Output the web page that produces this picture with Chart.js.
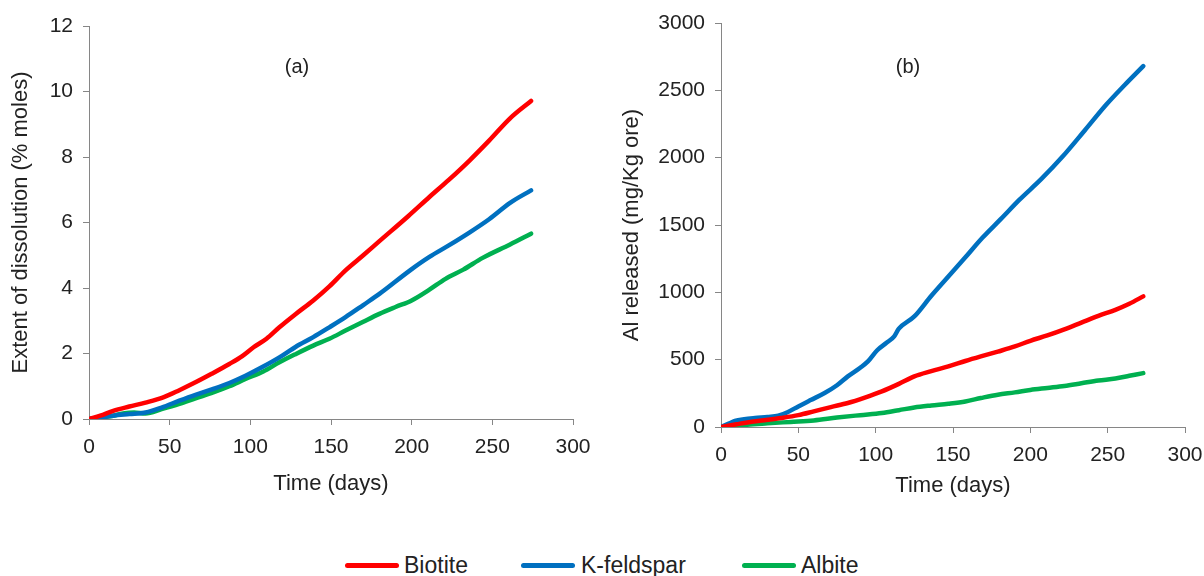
<!DOCTYPE html>
<html>
<head>
<meta charset="utf-8">
<script src="https://cdn.jsdelivr.net/npm/chart.js@4/dist/chart.umd.min.js"></script>
<style>
  html, body { margin: 0; padding: 0; background: #ffffff; }
  body { width: 1204px; height: 576px; position: relative; overflow: hidden; font-family: "Liberation Sans", Arial, sans-serif; }
  #wrapA { position: absolute; left: 0; top: 0; width: 600px; height: 500px; }
  #wrapB { position: absolute; left: 600px; top: 0; width: 604px; height: 505px; }
  .legend { position: absolute; top: 551px; height: 28px; font-size: 23px; color: #222; line-height: 28px; }
  .legend .sw { position: absolute; top: 12px; height: 5px; width: 54px; border-radius: 3px; }
  .legend .tx { position: absolute; top: 0; white-space: nowrap; }
</style>
</head>
<body>
<div id="wrapA"><canvas id="chartA" width="600" height="500"></canvas></div>
<div id="wrapB"><canvas id="chartB" width="604" height="505"></canvas></div>
<div class="legend" style="left:0;width:1204px;">
  <div class="sw" style="left:345px;background:#FF0000;"></div><div class="tx" style="left:404px;">Biotite</div>
  <div class="sw" style="left:521px;background:#0070C0;"></div><div class="tx" style="left:581px;">K-feldspar</div>
  <div class="sw" style="left:742px;background:#00B050;"></div><div class="tx" style="left:801px;">Albite</div>
</div>
<script>
// ---------- Data ----------
const seriesNames = ["Biotite", "K-feldspar", "Albite"];
const seriesColors = ["#FF0000", "#0070C0", "#00B050"];

// Panel (a): extent of dissolution (% moles)
const aBiotiteDays = [0, 7, 15, 25, 35, 46, 56, 66, 76, 87, 95, 102, 110, 118, 128, 139, 149, 159, 170, 180, 198, 211, 223, 236, 248, 261, 274];
const aBiotiteVals = [0, 0.1, 0.25, 0.38, 0.5, 0.66, 0.88, 1.12, 1.38, 1.68, 1.92, 2.19, 2.45, 2.8, 3.2, 3.62, 4.05, 4.54, 5.0, 5.43, 6.2, 6.78, 7.3, 7.9, 8.5, 9.18, 9.71];
const aKfeldDays = [0, 8, 15, 25, 35, 45, 56, 66, 77, 87, 97, 108, 118, 128, 139, 149, 159, 170, 180, 199, 211, 223, 236, 248, 261, 274];
const aKfeldVals = [0, 0.05, 0.1, 0.15, 0.2, 0.35, 0.56, 0.74, 0.92, 1.1, 1.32, 1.6, 1.88, 2.2, 2.5, 2.8, 3.11, 3.48, 3.82, 4.54, 4.95, 5.3, 5.7, 6.1, 6.6, 6.98];
const aAlbiteDays = [0, 8, 15, 22, 28, 35, 45, 56, 66, 77, 87, 97, 108, 118, 128, 139, 149, 159, 170, 180, 190, 200, 211, 221, 232, 244, 261, 274];
const aAlbiteVals = [0, 0.05, 0.1, 0.18, 0.2, 0.17, 0.3, 0.46, 0.63, 0.81, 1.0, 1.22, 1.45, 1.73, 1.98, 2.24, 2.45, 2.7, 2.97, 3.21, 3.42, 3.62, 3.95, 4.28, 4.56, 4.92, 5.33, 5.66];

// Panel (b): Al released (mg/Kg ore)
const bBiotiteDays = [0, 10, 17, 28, 39, 50, 60, 71, 82, 93, 104, 115, 125, 136, 147, 158, 168, 179, 190, 200, 211, 222, 233, 244, 255, 264, 273];
const bBiotiteVals = [0, 20, 34, 50, 67, 88, 116, 148, 178, 218, 264, 320, 376, 415, 450, 490, 524, 560, 598, 640, 680, 725, 775, 825, 870, 915, 970];
const bKfeldDays = [0, 5, 9, 15, 22, 30, 37, 43, 50, 58, 67, 75, 82, 90, 95, 101, 107, 112, 115, 125, 136, 147, 158, 169, 181, 193, 207, 221, 235, 249, 261, 273];
const bKfeldVals = [0, 25, 45, 58, 67, 75, 84, 110, 153, 200, 252, 310, 376, 440, 487, 570, 625, 673, 730, 821, 975, 1118, 1260, 1405, 1545, 1688, 1840, 2010, 2200, 2393, 2540, 2680];
const bAlbiteDays = [0, 10, 17, 30, 45, 60, 75, 90, 104, 115, 125, 136, 147, 158, 168, 179, 190, 200, 211, 222, 233, 244, 255, 264, 273];
const bAlbiteVals = [0, 10, 17, 27, 38, 49, 70, 88, 104, 125, 145, 160, 173, 190, 215, 240, 257, 275, 290, 305, 325, 345, 360, 380, 400];

const xTicks = [0, 50, 100, 150, 200, 250, 300];
const aYTicks = [0, 2, 4, 6, 8, 10, 12];
const bYTicks = [0, 500, 1000, 1500, 2000, 2500, 3000];

// ---------- Helpers ----------
const FONT = "'Liberation Sans', Arial, sans-serif";
const axisGray = "#868686";
const textCol = "#222222";

function pts(days, vals) { return days.map((d, i) => ({ x: d, y: vals[i] })); }

function makeDatasets(sets) {
  return sets.map((s, i) => ({
    label: seriesNames[i],
    data: pts(s[0], s[1]),
    borderColor: seriesColors[i],
    backgroundColor: seriesColors[i],
    borderWidth: 4.5,
    pointRadius: 0,
    cubicInterpolationMode: 'monotone',
    borderCapStyle: 'round',
    borderJoinStyle: 'round',
    fill: false
  }));
}

const panelLabel = {
  id: 'panelLabel',
  afterDraw(chart, args, opts) {
    const ctx = chart.ctx;
    ctx.save();
    ctx.font = "20px " + FONT;
    ctx.fillStyle = textCol;
    ctx.textAlign = 'center';
    ctx.textBaseline = 'middle';
    ctx.fillText(opts.text, opts.x, opts.y);
    ctx.restore();
  }
};

function makeOptions(cfg) {
  return {
    responsive: false,
    animation: false,
    layout: { padding: cfg.padding },
    plugins: {
      legend: { display: false },
      tooltip: { enabled: false },
      panelLabel: { text: cfg.label, x: cfg.labelX, y: cfg.labelY }
    },
    scales: {
      x: {
        type: 'linear', min: 0, max: 300,
        afterBuildTicks: (s) => { s.ticks = xTicks.map(v => ({ value: v })); },
        afterFit: (s) => { s.height = cfg.xHeight; s.paddingLeft = 0; s.paddingRight = 0; },
        grid: { display: true, drawOnChartArea: false, drawTicks: true, tickLength: 6, color: axisGray, lineWidth: 1 },
        border: { display: true, color: axisGray, width: 1 },
        ticks: { color: textCol, font: { family: FONT, size: 21 }, padding: 10, maxRotation: 0, callback: (v) => String(v) },
        title: { display: true, text: 'Time (days)', color: textCol, font: { family: FONT, size: 22 }, padding: { top: 0, bottom: 0 } }
      },
      y: {
        type: 'linear', min: cfg.yTicks[0], max: cfg.yTicks[cfg.yTicks.length - 1],
        afterBuildTicks: (s) => { s.ticks = cfg.yTicks.map(v => ({ value: v })); },
        afterFit: (s) => { s.width = cfg.yWidth; s.paddingTop = 0; s.paddingBottom = 0; },
        grid: { display: true, drawOnChartArea: false, drawTicks: true, tickLength: 6, color: axisGray, lineWidth: 1 },
        border: { display: true, color: axisGray, width: 1 },
        ticks: { color: textCol, font: { family: FONT, size: 21 }, padding: 10, callback: (v) => String(v) },
        title: { display: true, text: cfg.yTitle, color: textCol, font: { family: FONT, size: 22 }, padding: { top: cfg.yTitlePad, bottom: 0 } }
      }
    }
  };
}

new Chart(document.getElementById('chartA'), {
  type: 'line',
  data: { datasets: makeDatasets([[aBiotiteDays, aBiotiteVals], [aKfeldDays, aKfeldVals], [aAlbiteDays, aAlbiteVals]]) },
  options: makeOptions({
    padding: { left: 0, right: 27, top: 26, bottom: 3 },
    xHeight: 78, yWidth: 89, yTicks: aYTicks,
    yTitle: 'Extent of dissolution (% moles)', yTitlePad: 8,
    label: '(a)', labelX: 297, labelY: 67
  }),
  plugins: [panelLabel]
});

new Chart(document.getElementById('chartB'), {
  type: 'line',
  data: { datasets: makeDatasets([[bBiotiteDays, bBiotiteVals], [bKfeldDays, bKfeldVals], [bAlbiteDays, bAlbiteVals]]) },
  options: makeOptions({
    padding: { left: 0, right: 19, top: 23, bottom: 6 },
    xHeight: 72, yWidth: 121, yTicks: bYTicks,
    yTitle: 'Al released (mg/Kg ore)', yTitlePad: 19,
    label: '(b)', labelX: 308, labelY: 67
  }),
  plugins: [panelLabel]
});
</script>
</body>
</html>
